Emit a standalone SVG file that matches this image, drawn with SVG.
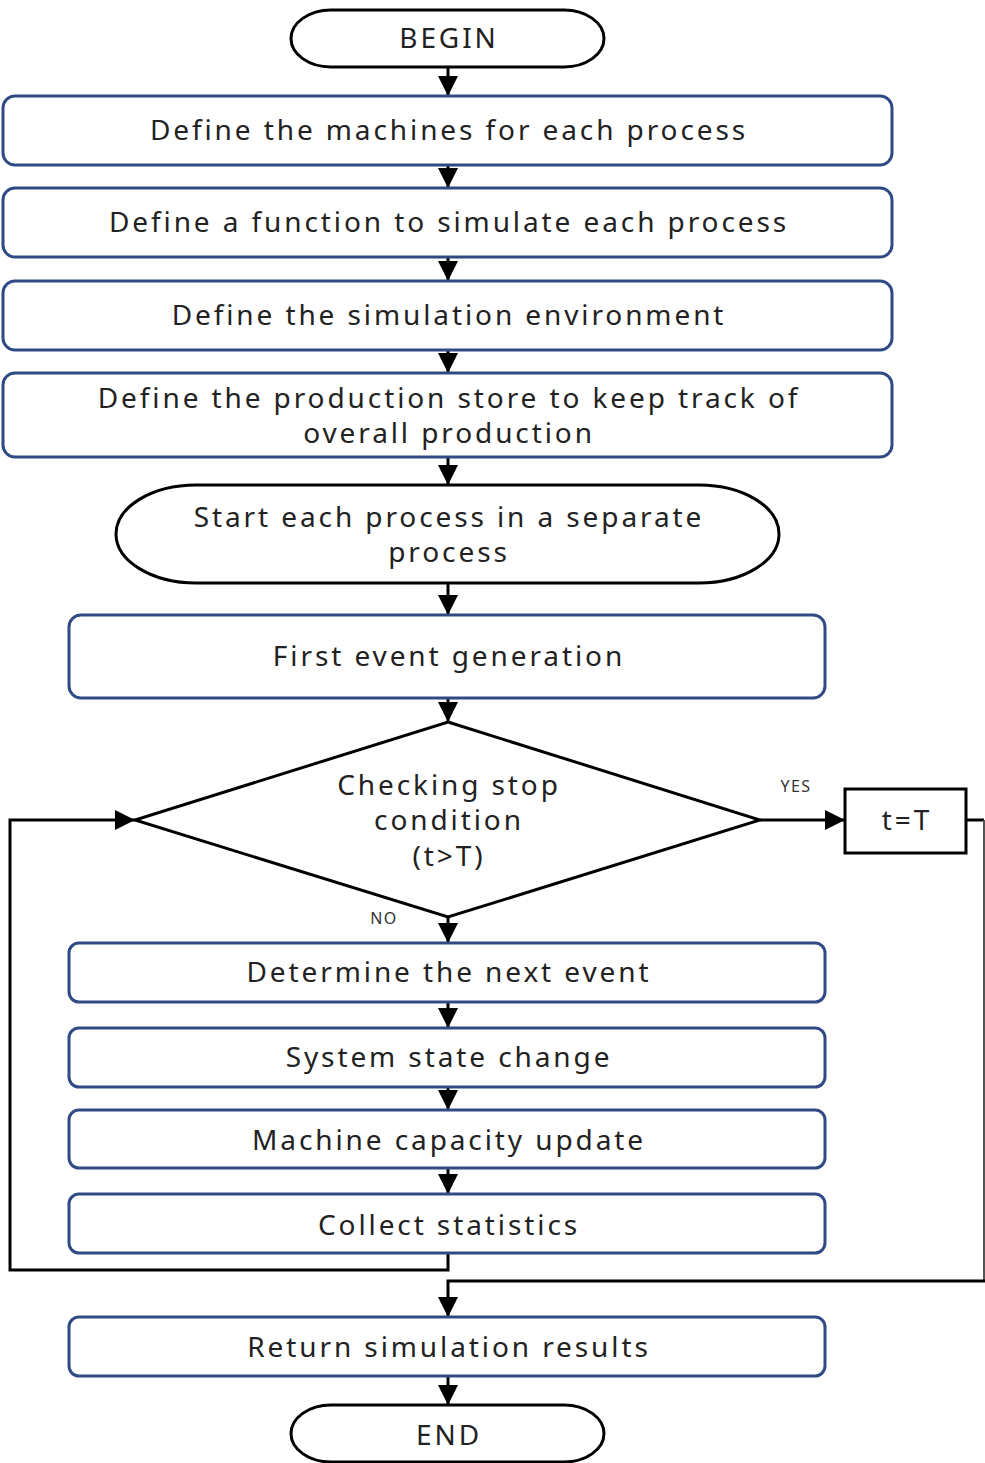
<svg xmlns="http://www.w3.org/2000/svg" width="985" height="1463" viewBox="0 0 985 1463">
<style>
.box{fill:#fff;stroke:#2F4A85;stroke-width:3}
.term{fill:#fff;stroke:#000;stroke-width:3}
.t{font-family:"Noto Sans","Open Sans",sans-serif;font-size:28px;fill:#222;text-anchor:middle;dominant-baseline:central;letter-spacing:2.9px}
.s{font-family:"Noto Sans",sans-serif;font-size:16px;fill:#333;text-anchor:middle;dominant-baseline:central;letter-spacing:1.5px}
.c{fill:none;stroke:#000;stroke-width:3}
</style>
<defs>
<marker id="ah" viewBox="0 0 20 20" refX="20" refY="10" markerWidth="20" markerHeight="20" markerUnits="userSpaceOnUse" orient="auto">
<path d="M0,0 L20,10 L0,20 z" fill="#000"/>
</marker>
</defs>
<g id="connectors">
<line class="c" x1="448" y1="67" x2="448" y2="96" marker-end="url(#ah)"/>
<line class="c" x1="448" y1="165" x2="448" y2="188" marker-end="url(#ah)"/>
<line class="c" x1="448" y1="257" x2="448" y2="281" marker-end="url(#ah)"/>
<line class="c" x1="448" y1="350" x2="448" y2="373" marker-end="url(#ah)"/>
<line class="c" x1="448" y1="457" x2="448" y2="485" marker-end="url(#ah)"/>
<line class="c" x1="448" y1="583" x2="448" y2="615" marker-end="url(#ah)"/>
<line class="c" x1="448" y1="698" x2="448" y2="722" marker-end="url(#ah)"/>
<line class="c" x1="760" y1="820" x2="845" y2="820" marker-end="url(#ah)"/>
<line class="c" x1="448" y1="917" x2="448" y2="943" marker-end="url(#ah)"/>
<line class="c" x1="448" y1="1002" x2="448" y2="1028" marker-end="url(#ah)"/>
<line class="c" x1="448" y1="1087" x2="448" y2="1110" marker-end="url(#ah)"/>
<line class="c" x1="448" y1="1168" x2="448" y2="1194" marker-end="url(#ah)"/>
<polyline class="c" points="448,1253 448,1270 10,1270 10,820 135,820" marker-end="url(#ah)"/>
<polyline class="c" points="966,820 984,820"/>
<line x1="984" y1="820" x2="984" y2="1281" stroke="#555" stroke-width="2"/>
<polyline class="c" points="985,1281 448,1281 448,1317" marker-end="url(#ah)"/>
<line class="c" x1="448" y1="1376" x2="448" y2="1405" marker-end="url(#ah)"/>
<text class="s" x="796" y="786">YES</text>
<text class="s" x="384" y="918">NO</text>
</g>
<g id="begin">
<rect class="term" x="291" y="10" width="313" height="57" rx="40" ry="28.5"/>
<text class="t" x="449" y="37">BEGIN</text>
</g>
<g id="define-machines">
<rect class="box" x="3" y="96" width="889" height="69" rx="12"/>
<text class="t" x="449" y="129">Define the machines for each process</text>
</g>
<g id="define-function">
<rect class="box" x="3" y="188" width="889" height="69" rx="12"/>
<text class="t" x="449" y="221">Define a function to simulate each process</text>
</g>
<g id="define-env">
<rect class="box" x="3" y="281" width="889" height="69" rx="12"/>
<text class="t" x="449" y="314">Define the simulation environment</text>
</g>
<g id="define-store">
<rect class="box" x="3" y="373" width="889" height="84" rx="12"/>
<text class="t" x="449" y="397">Define the production store to keep track of</text>
<text class="t" x="449" y="432">overall production</text>
</g>
<g id="start-process">
<rect class="term" x="116" y="485" width="663" height="98" rx="80" ry="49"/>
<text class="t" x="449" y="516">Start each process in a separate</text>
<text class="t" x="449" y="551">process</text>
</g>
<g id="first-event">
<rect class="box" x="69" y="615" width="756" height="83" rx="12"/>
<text class="t" x="449" y="655">First event generation</text>
</g>
<g id="check-stop">
<polygon class="term" points="448,722 760,820 448,917 135,820"/>
<text class="t" x="449" y="784">Checking stop</text>
<text class="t" x="449" y="819">condition</text>
<text class="t" x="449" y="855">(t&gt;T)</text>
</g>
<g id="t-eq-T">
<rect x="845" y="789" width="121" height="64" fill="#fff" stroke="#000" stroke-width="3"/>
<text class="t" x="907" y="819">t=T</text>
</g>
<g id="next-event">
<rect class="box" x="69" y="943" width="756" height="59" rx="10"/>
<text class="t" x="449" y="971">Determine the next event</text>
</g>
<g id="state-change">
<rect class="box" x="69" y="1028" width="756" height="59" rx="10"/>
<text class="t" x="449" y="1056">System state change</text>
</g>
<g id="capacity-update">
<rect class="box" x="69" y="1110" width="756" height="58" rx="10"/>
<text class="t" x="449" y="1139">Machine capacity update</text>
</g>
<g id="collect-stats">
<rect class="box" x="69" y="1194" width="756" height="59" rx="10"/>
<text class="t" x="449" y="1224">Collect statistics</text>
</g>
<g id="return-results">
<rect class="box" x="69" y="1317" width="756" height="59" rx="10"/>
<text class="t" x="449" y="1346">Return simulation results</text>
</g>
<g id="end">
<rect class="term" x="291" y="1405" width="313" height="57" rx="40" ry="28.5"/>
<text class="t" x="449" y="1434">END</text>
</g>
</svg>
